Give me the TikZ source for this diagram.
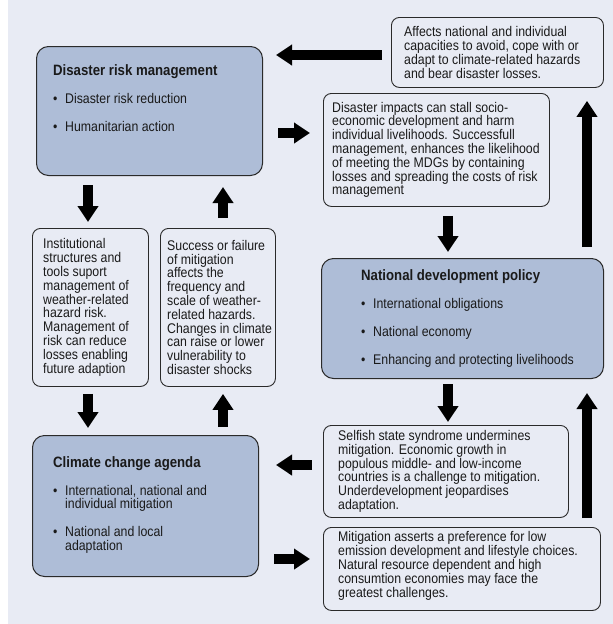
\documentclass[tikz,border=0pt]{standalone}
\usepackage{fontspec}
\setmainfont{Liberation Sans}[FakeStretch=0.88]
\usetikzlibrary{arrows.meta}
\definecolor{bgblue}{HTML}{E8EBF4}
\definecolor{boxblue}{HTML}{AEBDD7}
\definecolor{edge}{HTML}{2A2A2A}
\definecolor{ink}{HTML}{1A1A1A}
\newcommand{\bodyfont}{\fontsize{14}{13.8}\selectfont}
\newcommand{\headfont}{\bfseries\fontsize{15}{13.8}\selectfont}
\newcommand{\bdot}{\makebox[12pt][l]{\textbullet}}
\tikzset{
  topic/.style={rectangle, rounded corners=12pt, draw=edge, fill=boxblue, line width=1pt,
                anchor=north west, inner sep=0pt},
  topictext/.style={anchor=north west, align=left, inner sep=0pt, font=\bodyfont, text=ink},
  link/.style={rectangle, rounded corners=8pt, draw=edge, line width=0.9pt,
               anchor=north west, inner sep=0pt},
  linktext/.style={anchor=west, align=left, inner sep=0pt, font=\bodyfont, text=ink},
  bigarrow/.style={-{Triangle[length=16pt, width=20pt]}, line width=9.5pt, draw=black},
}

\begin{document}
\begin{tikzpicture}[x=1pt, y=-1pt]
  \useasboundingbox (0,0) rectangle (613,624);
  \fill[bgblue] (8,0) rectangle (613,624);

  \node[topic, minimum width=226pt, minimum height=129pt] (drm) at (36,46) {};
  \node[topictext] (drm-t) at ([shift={(17,18.5)}]drm.north west)
    {{\headfont Disaster risk management}\\[13.8pt]
     \bdot Disaster risk reduction\\[14.2pt]
     \bdot Humanitarian action};

  \node[topic, minimum width=282pt, minimum height=120pt] (ndp) at (321,258) {};
  \node[topictext] (ndp-t) at ([shift={(40,11.5)}]ndp.north west)
    {{\headfont National development policy}\\[13.8pt]
     \bdot International obligations\\[14.2pt]
     \bdot National economy\\[14.2pt]
     \bdot Enhancing and protecting livelihoods};

  \node[topic, minimum width=226pt, minimum height=141pt] (cca) at (32,435) {};
  \node[topictext] (cca-t) at ([shift={(21,21.5)}]cca.north west)
    {{\headfont Climate change agenda}\\[13.8pt]
     \bdot International, national and\\
     \hspace*{12pt}individual mitigation\\[14.2pt]
     \bdot National and local\\
     \hspace*{12pt}adaptation};

  \node[link, minimum width=212pt, minimum height=70pt] (affects) at (391,17) {};
  \node[linktext] (affects-t) at ([xshift=13pt]affects.west)
    {Affects national and individual\\capacities to avoid, cope with or\\
     adapt to climate-related hazards\\and bear disaster losses.};

  \node[link, minimum width=226pt, minimum height=113pt] (impacts) at (323,93) {};
  \node[linktext] (impacts-t) at ([xshift=9pt]impacts.west)
    {Disaster impacts can stall socio-\\economic development and harm\\
     individual livelihoods. Successfull\\management, enhances the likelihood\\
     of meeting the MDGs by containing\\losses and spreading the costs of risk\\
     management};

  \node[link, minimum width=116pt, minimum height=158pt] (inst) at (32,228) {};
  \node[linktext] (inst-t) at ([xshift=11pt]inst.west)
    {Institutional\\structures and\\tools suport\\management of\\weather-related\\
     hazard risk.\\Management of\\risk can reduce\\losses enabling\\future adaption};

  \node[link, minimum width=115pt, minimum height=158pt] (succ) at (160,228) {};
  \node[linktext] (succ-t) at ([xshift=7pt]succ.west)
    {Success or failure\\of mitigation\\affects the\\frequency and\\scale of weather-\\
     related hazards.\\Changes in climate\\can raise or lower\\vulnerability to\\disaster shocks};

  \node[link, minimum width=245pt, minimum height=92pt] (selfish) at (323,425) {};
  \node[linktext] (selfish-t) at ([xshift=15pt]selfish.west)
    {Selfish state syndrome undermines\\mitigation. Economic growth in\\
     populous middle- and low-income\\countries is a challenge to mitigation.\\
     Underdevelopment jeopardises\\adaptation.};

  \node[link, minimum width=277pt, minimum height=83pt] (mitig) at (323,527) {};
  \node[linktext] (mitig-t) at ([shift={(15,-3)}]mitig.west)
    {Mitigation asserts a preference for low\\emission development and lifestyle choices.\\
     Natural resource dependent and high\\consumtion economies may face the\\
     greatest challenges.};

  \draw[bigarrow, shorten <=9pt, shorten >=13pt] (affects.west |- 0,55) -- (drm.east |- 0,55);
  \draw[bigarrow, shorten <=15pt, shorten >=13pt] (drm.east |- 0,133) -- (impacts.west |- 0,133);
  \draw[bigarrow, shorten <=9pt, shorten >=6pt] (impacts.south -| 448,0) -- (ndp.north -| 448,0);
  \draw[bigarrow, shorten <=11pt, shorten >=13pt] (ndp.north -| 587,0) -- (affects.south -| 587,0);
  \draw[bigarrow, shorten <=5pt, shorten >=3pt] (ndp.south -| 448,0) -- (selfish.north -| 448,0);
  \draw[bigarrow, shorten <=9pt, shorten >=14pt] (mitig.north -| 587,0) -- (ndp.south -| 587,0);
  \draw[bigarrow, shorten <=11pt, shorten >=17pt] (selfish.west |- 0,465) -- (cca.east |- 0,465);
  \draw[bigarrow, shorten <=15pt, shorten >=13pt] (cca.east |- 0,559) -- (mitig.west |- 0,559);
  \draw[bigarrow, shorten <=9pt, shorten >=6pt] (drm.south -| 88,0) -- (inst.north -| 88,0);
  \draw[bigarrow, shorten <=10pt, shorten >=11pt] (succ.north -| 223,0) -- (drm.south -| 223,0);
  \draw[bigarrow, shorten <=7pt, shorten >=7pt] (inst.south -| 88,0) -- (cca.north -| 88,0);
  \draw[bigarrow, shorten <=8pt, shorten >=7pt] (cca.north -| 223,0) -- (succ.south -| 223,0);
\end{tikzpicture}
\end{document}
